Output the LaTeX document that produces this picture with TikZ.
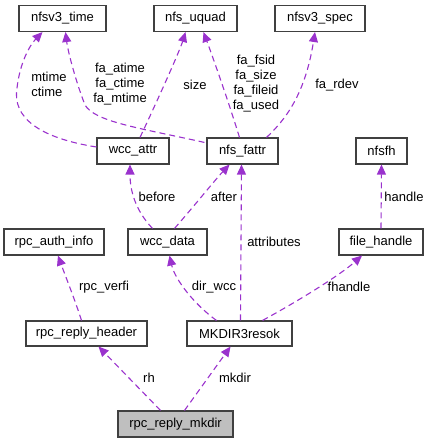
\documentclass[tikz,border=0pt]{standalone}
\usepackage{fontspec}
\setmainfont{Liberation Sans}
\usetikzlibrary{arrows.meta,calc}
\definecolor{edgec}{HTML}{9A32CD}
\begin{document}
\begin{tikzpicture}[x=1pt,y=-1pt,
  box/.style={draw=black!75,line width=1.1pt,fill=white,inner sep=0pt,minimum height=26pt,font=\fontsize{13}{15}\selectfont},
  edge/.style={draw=edgec,line width=1.1pt,dash pattern=on 6pt off 4pt,-{Triangle[length=10pt,width=9pt]}},
  lbl/.style={font=\fontsize{13}{15}\selectfont,inner sep=0pt,align=center}]
\useasboundingbox (0,0) rectangle (429,443);
% nodes
\node[box,minimum width=87pt] (time) at (62.5,18.5) {nfsv3\_time};
\node[box,minimum width=83pt] (uquad) at (195.5,18.5) {nfs\_uquad};
\node[box,minimum width=90pt] (spec) at (320,18.5) {nfsv3\_spec};
\node[box,minimum width=72pt] (wattr) at (133,151) {wcc\_attr};
\node[box,minimum width=71pt] (fattr) at (242.5,151) {nfs\_fattr};
\node[box,minimum width=51pt] (fh) at (381.5,151) {nfsfh};
\node[box,minimum width=100pt] (auth) at (54,242) {rpc\_auth\_info};
\node[box,minimum width=79pt] (wdata) at (167.5,242) {wcc\_data};
\node[box,minimum width=84pt] (fhandle) at (381,242) {file\_handle};
\node[box,minimum width=121pt,minimum height=25pt] (hdr) at (86.5,333.5) {rpc\_reply\_header};
\node[box,minimum width=105pt,minimum height=25pt] (mk) at (239.5,333.5) {MKDIR3resok};
\node[box,minimum width=115pt,fill=black!25] (main) at (175.5,424) {rpc\_reply\_mkdir};
% edges
\draw[edge] ($(wattr.west)+(0,-4)$) .. controls (40,138) and (12,118) .. (17,88) .. controls (20,62) and (30,45) .. ($(time.south)+(-20,0)$);
\draw[edge] ($(fattr.north west)+(-2,5)$) .. controls (140,128) and (95,122) .. (85,105) .. controls (76,82) and (68,52) .. ($(time.south)+(3,0)$);
\draw[edge] ($(wattr.north)+(7,0)$) .. controls (160,95) and (180,50) .. ($(uquad.south)+(-10,0)$);
\draw[edge] ($(fattr.north)+(-3,0)$) .. controls (228,100) and (212,55) .. ($(uquad.south)+(8,0)$);
\draw[edge] ($(fattr.north)+(24,0)$) .. controls (285,120) and (305,95) .. ($(spec.south)+(-5,0)$);
\draw[edge] ($(wdata.north)+(-15,0)$) .. controls (135,210) and (130,190) .. ($(wattr.south)+(-3,0)$);
\draw[edge] ($(wdata.north)+(7,0)$) .. controls (195,205) and (215,180) .. ($(fattr.south)+(-13,0)$);
\draw[edge] (fhandle.north) -- (fh.south);
\draw[edge] ($(hdr.north)+(-5,0)$) .. controls (75,300) and (65,275) .. ($(auth.south)+(4,0)$);
\draw[edge] ($(mk.north)+(-23,0)$) .. controls (195,305) and (175,280) .. ($(wdata.south)+(2,0)$);
\draw[edge] ($(mk.north)+(1,0)$) -- ($(fattr.south)+(-1,0)$);
\draw[edge] ($(mk.north)+(23,0)$) .. controls (300,300) and (340,275) .. ($(fhandle.south)+(-19,0)$);
\draw[edge] ($(main.north)+(-15,0)$) -- ($(hdr.south)+(12,0)$);
\draw[edge] ($(main.north)+(9,0)$) -- ($(mk.south)+(-9,0)$);
% labels
\node[lbl,align=left] (l1) at (49,84) {mtime\\ctime};
\node[lbl] (l2) at (120,84) {fa\_atime\\fa\_ctime\\fa\_mtime};
\node[lbl] (l3) at (195,85) {size};
\node[lbl] (l4) at (256,84) {fa\_fsid\\fa\_size\\fa\_fileid\\fa\_used};
\node[lbl] (l5) at (337,85) {fa\_rdev};
\node[lbl] (l6) at (157,197) {before};
\node[lbl] (l7) at (224,197) {after};
\node[lbl] (l8) at (404,197) {handle};
\node[lbl] (l9) at (104,287) {rpc\_verfi};
\node[lbl] (l10) at (214,287) {dir\_wcc};
\node[lbl] (l11) at (274,242) {attributes};
\node[lbl] (l12) at (349,287) {fhandle};
\node[lbl] (l13) at (149,378) {rh};
\node[lbl] (l14) at (235,378) {mkdir};
\end{tikzpicture}
\end{document}
